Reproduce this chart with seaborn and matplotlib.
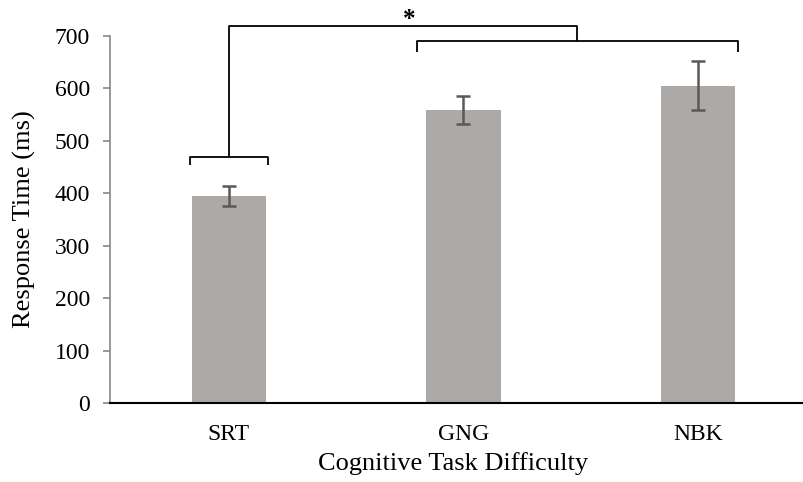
import matplotlib
matplotlib.use("Agg")
import matplotlib.pyplot as plt
import seaborn as sns
import pandas as pd

categories = ["SRT", "GNG", "NBK"]
mean_rt = [394, 559, 605]
err_rt = [19, 26, 47]
y_ticks = [0, 100, 200, 300, 400, 500, 600, 700]

# significance annotation levels (in ms units)
sig_top = 720
sig_right = 690
sig_right_leg = 670
sig_left = 470
sig_left_leg = 453
star_y = 731

sns.set_theme(style="white")
plt.rcParams["font.family"] = ["Liberation Serif", "DejaVu Serif"]

df = pd.DataFrame({"task": categories, "rt": mean_rt})

fig = plt.figure(figsize=(8.04, 4.82), dpi=100)
ax = fig.add_axes([110 / 804, (482 - 403) / 482, 694 / 804, 367 / 482])

sns.barplot(data=df, x="task", y="rt", color="#ADA9A7", saturation=1,
            width=0.316, ax=ax, errorbar=None, edgecolor="none")
ax.errorbar(range(len(categories)), mean_rt, yerr=err_rt, fmt="none",
            ecolor="#595959", elinewidth=1.8, capsize=4.7, capthick=1.8)

ax.set_ylim(0, 700)
ax.set_xlim(-0.507, 2.452)
ax.set_yticks(y_ticks)
ax.set_yticklabels([str(t) for t in y_ticks])

for s in ["top", "right"]:
    ax.spines[s].set_visible(False)
ax.spines["left"].set_color("#868686")
ax.spines["left"].set_linewidth(1.2)
ax.spines["bottom"].set_color("#000000")
ax.spines["bottom"].set_linewidth(1.5)

ax.tick_params(axis="y", which="major", left=True, length=5, width=1.2,
               color="#868686", labelsize=17, pad=9.5, labelcolor="black")
ax.tick_params(axis="x", which="major", bottom=False, labelsize=17, pad=9,
               labelcolor="black")

ax.set_xlabel("Cognitive Task Difficulty", fontsize=19, color="black")
ax.set_ylabel("Response Time (ms)", fontsize=19, color="black")
ax.xaxis.set_label_coords(0.494, -0.134)
ax.yaxis.set_label_coords(-0.106, 0.5)

lk = dict(color="black", lw=1.3, clip_on=False, solid_capstyle="butt")
hw = 0.165
# left bracket over SRT
ax.plot([0 - hw, 0 - hw, 0 + hw, 0 + hw],
        [sig_left_leg, sig_left, sig_left, sig_left_leg], **lk)
# right bracket over GNG..NBK
ax.plot([1 - 0.2, 1 - 0.2, 2 + 0.17, 2 + 0.17],
        [sig_right_leg, sig_right, sig_right, sig_right_leg], **lk)
# top connector
mid_right = (1 - 0.2 + 2 + 0.17) / 2
ax.plot([0, 0, mid_right, mid_right], [sig_left, sig_top, sig_top, sig_right], **lk)
ax.text(0.77, star_y, "*", ha="center", va="center", fontsize=18,
        fontweight="bold", color="black", clip_on=False)

fig.savefig("out.png", dpi=100)
